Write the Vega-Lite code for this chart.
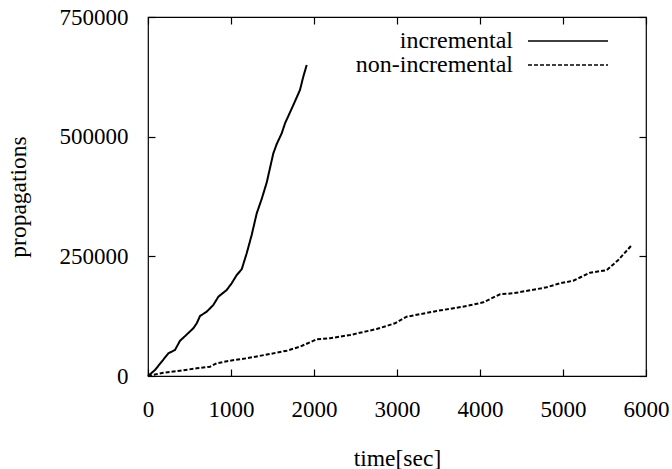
{
  "$schema": "https://vega.github.io/schema/vega-lite/v6.json",
  "width": 498,
  "height": 359,
  "autosize": {"type": "none"},
  "padding": {"left": 148, "top": 17, "right": 26, "bottom": 93},
  "background": "white",
  "config": {
    "view": {"stroke": "black", "strokeWidth": 1.2},
    "axis": {
      "labelFont": "Liberation Serif", "labelFontSize": 23, "labelColor": "black",
      "titleFont": "Liberation Serif", "titleFontSize": 23.5, "titleFontWeight": "normal", "titleColor": "black",
      "domain": false, "grid": false, "ticks": true, "tickColor": "black", "tickWidth": 1.2, "tickSize": 7, "offset": -7,
      "labelFlush": false, "labelOverlap": false
    }
  },
  "data": {"values": [
    {"series": "incremental", "t": 0, "v": 0},
    {"series": "incremental", "t": 84, "v": 12500},
    {"series": "incremental", "t": 165, "v": 29900},
    {"series": "incremental", "t": 245, "v": 47400},
    {"series": "incremental", "t": 325, "v": 54300},
    {"series": "incremental", "t": 386, "v": 73700},
    {"series": "incremental", "t": 426, "v": 80000},
    {"series": "incremental", "t": 546, "v": 99600},
    {"series": "incremental", "t": 587, "v": 110100},
    {"series": "incremental", "t": 627, "v": 125400},
    {"series": "incremental", "t": 707, "v": 134300},
    {"series": "incremental", "t": 787, "v": 148400},
    {"series": "incremental", "t": 848, "v": 165700},
    {"series": "incremental", "t": 948, "v": 179700},
    {"series": "incremental", "t": 1008, "v": 193700},
    {"series": "incremental", "t": 1069, "v": 211000},
    {"series": "incremental", "t": 1129, "v": 222900},
    {"series": "incremental", "t": 1189, "v": 256300},
    {"series": "incremental", "t": 1249, "v": 294500},
    {"series": "incremental", "t": 1310, "v": 339900},
    {"series": "incremental", "t": 1370, "v": 370000},
    {"series": "incremental", "t": 1430, "v": 404000},
    {"series": "incremental", "t": 1510, "v": 465200},
    {"series": "incremental", "t": 1551, "v": 484700},
    {"series": "incremental", "t": 1611, "v": 507000},
    {"series": "incremental", "t": 1651, "v": 527900},
    {"series": "incremental", "t": 1751, "v": 566100},
    {"series": "incremental", "t": 1831, "v": 597500},
    {"series": "incremental", "t": 1871, "v": 625300},
    {"series": "incremental", "t": 1912, "v": 649700},
    {"series": "non-incremental", "t": 0, "v": 0},
    {"series": "non-incremental", "t": 185, "v": 6900},
    {"series": "non-incremental", "t": 386, "v": 11100},
    {"series": "non-incremental", "t": 587, "v": 16000},
    {"series": "non-incremental", "t": 747, "v": 19400},
    {"series": "non-incremental", "t": 827, "v": 26500},
    {"series": "non-incremental", "t": 988, "v": 32000},
    {"series": "non-incremental", "t": 1189, "v": 37000},
    {"series": "non-incremental", "t": 1470, "v": 46000},
    {"series": "non-incremental", "t": 1671, "v": 52900},
    {"series": "non-incremental", "t": 1831, "v": 61200},
    {"series": "non-incremental", "t": 2033, "v": 76700},
    {"series": "non-incremental", "t": 2193, "v": 78800},
    {"series": "non-incremental", "t": 2434, "v": 85600},
    {"series": "non-incremental", "t": 2755, "v": 98200},
    {"series": "non-incremental", "t": 2976, "v": 110100},
    {"series": "non-incremental", "t": 3117, "v": 123900},
    {"series": "non-incremental", "t": 3478, "v": 135800},
    {"series": "non-incremental", "t": 3840, "v": 146200},
    {"series": "non-incremental", "t": 4040, "v": 154000},
    {"series": "non-incremental", "t": 4241, "v": 170700},
    {"series": "non-incremental", "t": 4401, "v": 172800},
    {"series": "non-incremental", "t": 4804, "v": 185300},
    {"series": "non-incremental", "t": 4964, "v": 193700},
    {"series": "non-incremental", "t": 5124, "v": 199100},
    {"series": "non-incremental", "t": 5325, "v": 215800},
    {"series": "non-incremental", "t": 5526, "v": 221000},
    {"series": "non-incremental", "t": 5666, "v": 242300},
    {"series": "non-incremental", "t": 5819, "v": 271600}
  ]},
  "resolve": {"axis": {"x": "independent", "y": "independent"}},
  "layer": [
    {
      "mark": {"type": "line", "color": "black", "strokeWidth": 2},
      "encoding": {
        "x": {"field": "t", "type": "quantitative", "scale": {"domain": [0, 6000], "nice": false, "zero": false},
              "axis": {"orient": "bottom", "values": [0, 1000, 2000, 3000, 4000, 5000, 6000], "format": "d", "labelPadding": 22, "title": "time[sec]", "titlePadding": 25}},
        "y": {"field": "v", "type": "quantitative", "scale": {"domain": [0, 750000], "nice": false},
              "axis": {"orient": "left", "values": [0, 250000, 500000, 750000], "format": "d", "labelPadding": 20, "title": "propagations", "titlePadding": 29}},
        "strokeDash": {"field": "series", "type": "nominal",
          "scale": {"domain": ["incremental", "non-incremental"], "range": [[1, 0], [4, 2]]},
          "legend": {"orient": "none", "legendX": 408, "legendY": 12, "title": null, "padding": 0,
                     "symbolType": "M-5,0H5", "symbolSize": 256, "symbolStrokeWidth": 1.3, "symbolStrokeColor": "black",
                     "labelAlign": "right", "labelOffset": -67, "labelFont": "Liberation Serif", "labelFontSize": 24, "labelColor": "black",
                     "rowPadding": -5, "labelLimit": 300}}
      }
    },
    {
      "mark": {"type": "point", "opacity": 0},
      "encoding": {
        "x": {"field": "t", "type": "quantitative",
              "axis": {"orient": "top", "values": [0, 1000, 2000, 3000, 4000, 5000, 6000], "labels": false, "title": null}},
        "y": {"field": "v", "type": "quantitative",
              "axis": {"orient": "right", "values": [0, 250000, 500000, 750000], "labels": false, "title": null}}
      }
    }
  ]
}
